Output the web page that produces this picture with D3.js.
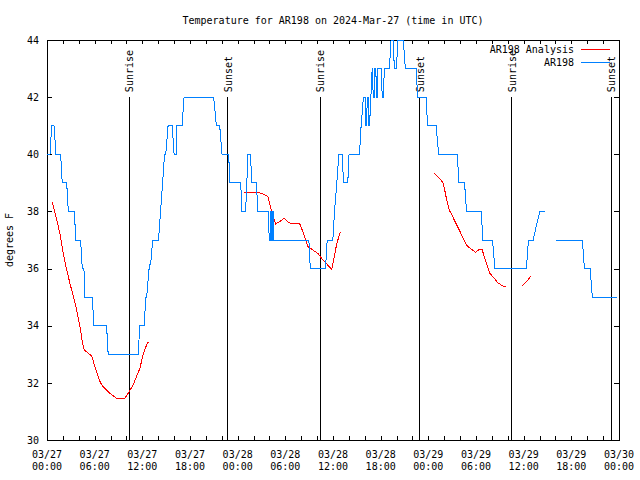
<!DOCTYPE html>
<html><head><meta charset="utf-8">
<script src="https://cdn.jsdelivr.net/npm/d3@7"></script>
<style>
body{margin:0;background:#fff}
svg{display:block}
text{font-family:"DejaVu Sans Mono",monospace;font-size:10px;fill:#000}
</style></head><body>
<svg id="c" width="640" height="480"></svg>
<script>
// ---------- data ----------
const title = "Temperature for AR198 on 2024-Mar-27 (time in UTC)";
const yLabel = "degrees F";
const seriesNames = ["AR198 Analysis", "AR198"];
const seriesColors = ["#ff0000", "#0080ff"];
const yTicks = [30, 32, 34, 36, 38, 40, 42, 44];
const xMajorHours = [0, 6, 12, 18, 24, 30, 36, 42, 48, 54, 60, 66, 72];
const xMinorHours = d3.range(0, 73, 2);
const startDate = Date.UTC(2024, 2, 27, 0, 0);
// sun events (hours after 03/27 00:00 UTC)
const sunHours = [10.34, 22.78, 34.39, 46.9, 58.47, 71.04];
const sunNames = ["Sunrise", "Sunset", "Sunrise", "Sunset", "Sunrise", "Sunset"];

// observed AR198 (hours, degF); null = gap
const obsHours = [0,0.38,0.59,0.88,1.13,1.72,1.92,2.48,2.68,3.43,3.64,4.23,4.44,4.65,4.75,5.69,5.91,7.50,7.70,11.47,11.69,12.23,12.44,12.55,12.85,13.1,13.3,14.04,14.29,14.55,14.8,14.95,15.24,15.75,16.0,16.3,16.32,17.0,17.25,20.98,21.32,21.74,22.03,22.8,22.85,22.97,23.0,24.38,24.54,25.0,25.3,25.6,25.8,26.35,26.55,27.93,27.95,28.1,28.12,28.23,28.25,28.35,28.37,28.5,28.52,32.96,33.14,35.06,35.27,35.98,36.19,36.48,36.74,37.17,37.32,37.86,38.02,39.33,39.54,39.83,40.05,40.1,40.25,40.3,40.45,40.5,40.6,40.93,41.0,41.05,41.2,41.25,41.4,41.45,41.55,41.63,42.06,42.2,42.32,42.47,43.1,43.31,43.55,43.73,44.0,44.14,44.85,45.11,46.46,46.66,47.71,47.91,48.97,49.3,51.68,51.81,52.56,52.81,54.7,54.82,56.08,56.38,60.35,60.6,61.2,61.6,62.04,62.67,63.4,64.09,67.39,67.64,68.36,68.65,71.7];
const obsTemps = [40,40,41,41,40,40,39,39,38,38,37,37,36,36,35,35,34,34,33,33,34,34,35,35,36,36.3,37,37,38,39,40,40,41,41,40,40,41,41,42,42,41,41,40,40,39.7,39.7,39,39,38,38,40,40,39,39,38,38,37,37,38,38,37,37,38,38,37,37,36,36,37,37,38,39,40,40,39,39,40,40,41,42,42,41,41,42,42,41,41,43,43,42,42,43,43,42,42,43,43,42,42,43,43,44,44,43,43,44,44,43,43,42,42,41,41,40,40,39,39,38,38,37,37,36,36,37,37,37.5,38,38,null,37,37,36,36,35,35];

// AR198 Analysis (hours, degF); null = gap
const anaHours = [0.67,1.22,1.63,2.05,2.48,2.89,3.43,3.73,4.15,4.44,4.69,4.99,5.62,6.03,6.45,6.75,7.07,7.92,8.76,9.80,10.09,10.43,10.84,11.27,11.69,12.1,12.53,12.78,18,
  24.76,26.68,27.18,27.81,28.02,28.44,28.78,29.28,29.82,30.32,30.75,31.38,31.79,32.13,32.55,32.84,33.46,34.09,34.72,35.35,35.85,36.19,36.48,36.91,42,
  48.76,49.17,49.6,49.89,50.23,50.64,51.06,51.48,51.9,52.31,52.74,53.15,53.57,53.91,54.32,54.75,55.04,55.45,55.76,56.3,56.71,57.14,57.55,57.84,59,
  59.85,60.36,60.91];
const anaTemps = [38.34,37.7,37.23,36.53,35.95,35.48,34.9,34.55,33.97,33.44,33.15,33.09,32.94,32.57,32.22,31.99,31.87,31.63,31.46,31.46,31.58,31.73,31.93,32.22,32.51,32.98,33.33,33.44,null,
  38.66,38.66,38.61,38.52,38.28,37.82,37.56,37.64,37.76,37.64,37.56,37.58,37.58,37.35,37.0,36.77,36.65,36.53,36.3,36.12,35.97,36.47,36.88,37.27,null,
  39.33,39.22,39.1,38.98,38.52,38.05,37.82,37.58,37.35,37.09,36.85,36.73,36.65,36.57,36.65,36.68,36.42,36.07,35.83,35.66,35.51,35.43,35.37,35.35,null,
  35.4,35.54,35.74];

// ---------- chart ----------
const toDate = h => new Date(startDate + h * 3600e3);
const L = 47, R = 619, T = 40, B = 440;
const svg = d3.select("#c");
const x = d3.scaleUtc().domain([toDate(0), toDate(72)]).range([L, R]);
const y = d3.scaleLinear().domain([30, 44]).range([B, T]);

svg.append("rect").attr("width", 640).attr("height", 480).attr("fill", "#fff");

const g = svg.append("g").attr("shape-rendering", "crispEdges");

// title
svg.append("text").attr("x", (L + R) / 2).attr("y", 24).attr("text-anchor", "middle").text(title);
// y label
svg.append("text").attr("transform", "translate(13,240) rotate(-90)").attr("text-anchor", "middle").text(yLabel);

// axes with inward ticks
const fmtD = d3.utcFormat("%m/%d"), fmtT = d3.utcFormat("%H:%M");
const axB = g.append("g").attr("transform", `translate(0,${B})`)
  .call(d3.axisBottom(x).tickValues(xMinorHours.map(toDate)).tickSize(-4).tickFormat(""));
const axT = g.append("g").attr("transform", `translate(0,${T})`)
  .call(d3.axisTop(x).tickValues(xMinorHours.map(toDate)).tickSize(-4).tickFormat(""));
const axL = g.append("g").attr("transform", `translate(${L},0)`)
  .call(d3.axisLeft(y).tickValues(yTicks).tickSize(-5).tickPadding(8).tickFormat(d3.format("d")));
const axR = g.append("g").attr("transform", `translate(${R},0)`)
  .call(d3.axisRight(y).tickValues(yTicks).tickSize(-5).tickFormat(""));
[axB, axT, axL, axR].forEach(a => { a.select(".domain").remove(); a.selectAll("line").attr("stroke", "#000"); });
axL.attr("font-family", null).attr("font-size", null);
axL.selectAll("text").attr("fill", "#000");

// x tick labels (two lines)
const xl = svg.append("g");
xMajorHours.forEach(h => {
  const t = xl.append("text").attr("text-anchor", "middle").attr("x", x(toDate(h)));
  t.append("tspan").attr("x", x(toDate(h))).attr("y", 458).text(fmtD(toDate(h)));
  t.append("tspan").attr("x", x(toDate(h))).attr("y", 470).text(fmtT(toDate(h)));
});

// border
g.append("rect").attr("x", L).attr("y", T).attr("width", R - L).attr("height", B - T)
  .attr("fill", "none").attr("stroke", "#000");

// sunrise / sunset markers
sunHours.forEach((h, i) => {
  const sx = x(toDate(h));
  g.append("line").attr("x1", sx).attr("x2", sx).attr("y1", y(42)).attr("y2", y(30)).attr("stroke", "#000");
  svg.append("text").attr("transform", `translate(${sx + 4},${y(42) - 5}) rotate(-90)`)
    .attr("text-anchor", "start").text(sunNames[i]);
});

// clip
svg.append("clipPath").attr("id", "clip").append("rect")
  .attr("x", L).attr("y", T - 1).attr("width", R - L).attr("height", B - T + 1);

const line = d3.line().defined(d => d[1] != null).x(d => x(toDate(d[0]))).y(d => y(d[1]));
const anaData = anaHours.map((h, i) => [h, anaTemps[i]]);
const obsData = obsHours.map((h, i) => [h, obsTemps[i]]);

const dg = svg.append("g").attr("clip-path", "url(#clip)").attr("shape-rendering", "crispEdges");
dg.append("path").attr("d", line(anaData)).attr("fill", "none").attr("stroke", seriesColors[0]).attr("stroke-width", 1);
dg.append("path").attr("d", line(obsData)).attr("fill", "none").attr("stroke", seriesColors[1]).attr("stroke-width", 1);

// legend
seriesNames.forEach((n, i) => {
  const ly = 49 + i * 13;
  svg.append("text").attr("x", 574).attr("y", ly + 4).attr("text-anchor", "end").text(n);
  svg.append("line").attr("x1", 581).attr("x2", 610).attr("y1", ly).attr("y2", ly)
    .attr("stroke", seriesColors[i]).attr("shape-rendering", "crispEdges");
});
</script>
</body></html>
